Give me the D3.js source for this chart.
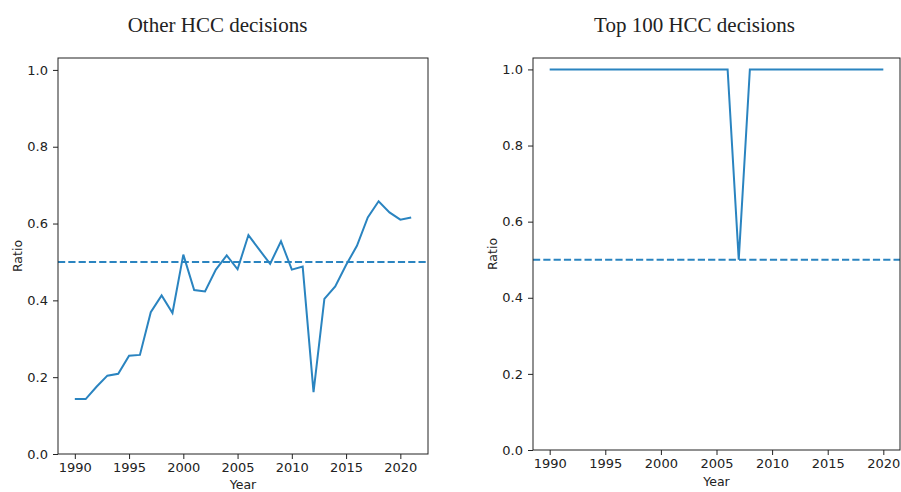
<!DOCTYPE html>
<html>
<head>
<meta charset="utf-8">
<script src="https://cdn.jsdelivr.net/npm/d3@7"></script>
<style>
body { margin: 0; background: #fff; }
svg { display: block; }
.tick text { font-family: "DejaVu Sans", sans-serif; font-size: 13px; fill: #222; }
</style>
</head>
<body>
<svg id="chart" width="901" height="492"></svg>
<script>
// Data
const yearsOther = d3.range(1990, 2022);
const ratioOther = [0.143, 0.143, 0.175, 0.204, 0.209, 0.256, 0.258, 0.369, 0.413, 0.367,
  0.519, 0.427, 0.423, 0.480, 0.517, 0.481, 0.570, 0.532, 0.495, 0.554,
  0.480, 0.488, 0.161, 0.404, 0.436, 0.492, 0.542, 0.616, 0.658, 0.629,
  0.610, 0.616];
const yearsTop = d3.range(1990, 2021);
const ratioTop = [1, 1, 1, 1, 1, 1, 1, 1, 1, 1, 1, 1, 1, 1, 1, 1, 1, 0.5, 1, 1,
  1, 1, 1, 1, 1, 1, 1, 1, 1, 1, 1];
const xTicks = [1990, 1995, 2000, 2005, 2010, 2015, 2020];
const yTicks = [0, 0.2, 0.4, 0.6, 0.8, 1.0];
const threshold = 0.5;
const titles = ["Other HCC decisions", "Top 100 HCC decisions"];

const color = "#2a84c0";
const svg = d3.select("#chart");

const panels = [
  { years: yearsOther, vals: ratioOther, title: titles[0],
    x0: 58, x1: 428, y0: 454, y1: 58, xd: [1988.45, 2022.55], yd: [0, 1.031],
    titleX: 217.5, yearY: 489, ratioX: 21.5 },
  { years: yearsTop, vals: ratioTop, title: titles[1],
    x0: 533, x1: 900, y0: 450, y1: 58, xd: [1988.5, 2021.5], yd: [0, 1.03],
    titleX: 694.5, yearY: 486, ratioX: 496.5 }
];

panels.forEach(p => {
  const x = d3.scaleLinear().domain(p.xd).range([p.x0, p.x1]);
  const y = d3.scaleLinear().domain(p.yd).range([p.y0, p.y1]);
  const g = svg.append("g");

  // title
  g.append("text").attr("x", p.titleX).attr("y", 31.7)
    .attr("text-anchor", "middle")
    .style("font-family", "'Liberation Serif', 'Times New Roman', serif")
    .style("font-size", "21px").style("fill", "#222")
    .text(p.title);

  // threshold dashed line
  g.append("line")
    .attr("x1", p.x0).attr("x2", p.x1)
    .attr("y1", y(threshold)).attr("y2", y(threshold))
    .attr("stroke", color).attr("stroke-width", 2)
    .attr("stroke-dasharray", "7.2,3.1");

  // data line
  const line = d3.line().x((d, i) => x(p.years[i])).y(d => y(d));
  g.append("path").datum(p.vals)
    .attr("d", line).attr("fill", "none")
    .attr("stroke", color).attr("stroke-width", 2)
    .attr("stroke-linejoin", "miter");

  // frame
  g.append("rect").attr("x", p.x0).attr("y", p.y1)
    .attr("width", p.x1 - p.x0).attr("height", p.y0 - p.y1)
    .attr("fill", "none").attr("stroke", "#222").attr("stroke-width", 1);

  // axes
  const xa = g.append("g").attr("transform", `translate(0,${p.y0})`)
    .call(d3.axisBottom(x).tickValues(xTicks).tickFormat(d3.format("d"))
      .tickSize(5).tickPadding(4).tickSizeOuter(0));
  const ya = g.append("g").attr("transform", `translate(${p.x0},0)`)
    .call(d3.axisLeft(y).tickValues(yTicks).tickFormat(d3.format(".1f"))
      .tickSize(5).tickPadding(5).tickSizeOuter(0));
  [xa, ya].forEach(a => {
    a.select(".domain").remove();
    a.selectAll(".tick line").attr("stroke", "#222");
  });

  // axis labels
  g.append("text").attr("x", (p.x0 + p.x1) / 2).attr("y", p.yearY)
    .attr("text-anchor", "middle")
    .style("font-family", "'DejaVu Sans', sans-serif").style("font-size", "12.5px")
    .style("fill", "#222").text("Year");
  g.append("text")
    .attr("transform", `translate(${p.ratioX},${(p.y0 + p.y1) / 2}) rotate(-90)`)
    .attr("text-anchor", "middle")
    .style("font-family", "'DejaVu Sans', sans-serif").style("font-size", "12.5px")
    .style("fill", "#222").text("Ratio");
});
</script>
</body>
</html>
